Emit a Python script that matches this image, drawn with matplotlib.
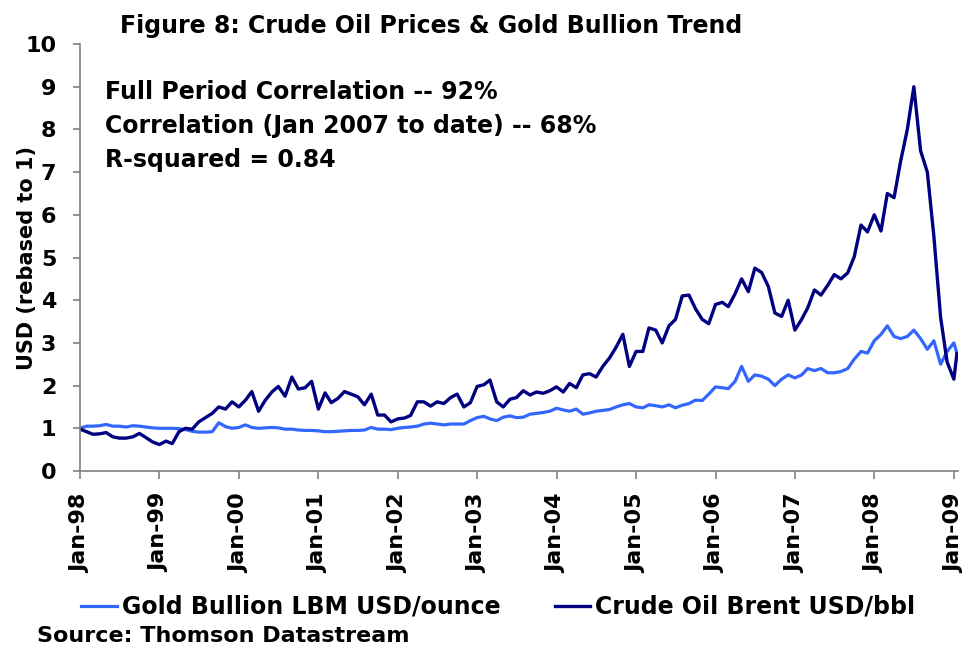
import numpy as np
import pandas as pd
import matplotlib
matplotlib.use("Agg")
import matplotlib.pyplot as plt
import matplotlib.dates as mdates

# Monthly values, rebased to 1 at Jan-98, last point mid Jan-09
crude = [
    0.98, 0.92, 0.86, 0.87, 0.90, 0.80, 0.77, 0.77, 0.80, 0.88, 0.78, 0.68,  # 1998
    0.62, 0.70, 0.64, 0.92, 1.00, 0.98, 1.15, 1.25, 1.35, 1.50, 1.45, 1.62,  # 1999
    1.50, 1.66, 1.86, 1.40, 1.65, 1.85, 1.98, 1.75, 2.20, 1.92, 1.95, 2.10,  # 2000
    1.45, 1.83, 1.60, 1.70, 1.86, 1.80, 1.74, 1.55, 1.80, 1.31, 1.31, 1.15,  # 2001
    1.22, 1.24, 1.30, 1.62, 1.62, 1.52, 1.62, 1.58, 1.72, 1.80, 1.50, 1.60,  # 2002
    1.98, 2.02, 2.13, 1.62, 1.50, 1.68, 1.72, 1.88, 1.78, 1.85, 1.82, 1.88,  # 2003
    1.97, 1.85, 2.05, 1.95, 2.25, 2.28, 2.20, 2.45, 2.65, 2.90, 3.20, 2.45,  # 2004
    2.80, 2.80, 3.35, 3.30, 3.00, 3.40, 3.55, 4.10, 4.12, 3.80, 3.55, 3.45,  # 2005
    3.90, 3.95, 3.85, 4.15, 4.50, 4.20, 4.75, 4.65, 4.32, 3.70, 3.62, 4.00,  # 2006
    3.30, 3.55, 3.82, 4.24, 4.12, 4.35, 4.60, 4.50, 4.64, 5.02, 5.76, 5.60,  # 2007
    6.00, 5.62, 6.50, 6.40, 7.25, 8.00, 9.00, 7.50, 7.00, 5.50, 3.60, 2.55,  # 2008
    2.15, 2.75,                                                              # 2009
]
gold = [
    1.00, 1.05, 1.05, 1.06, 1.09, 1.05, 1.05, 1.03, 1.06, 1.05, 1.03, 1.01,  # 1998
    1.00, 1.00, 1.00, 0.99, 0.97, 0.93, 0.91, 0.91, 0.92, 1.13, 1.04, 1.00,  # 1999
    1.02, 1.08, 1.02, 1.00, 1.01, 1.02, 1.01, 0.98, 0.98, 0.96, 0.95, 0.95,  # 2000
    0.94, 0.92, 0.92, 0.93, 0.94, 0.95, 0.95, 0.96, 1.02, 0.98, 0.98, 0.97,  # 2001
    1.00, 1.02, 1.03, 1.05, 1.10, 1.12, 1.10, 1.08, 1.10, 1.10, 1.10, 1.18,  # 2002
    1.25, 1.28, 1.22, 1.18, 1.26, 1.29, 1.25, 1.26, 1.33, 1.35, 1.37, 1.40,  # 2003
    1.47, 1.43, 1.40, 1.45, 1.33, 1.36, 1.40, 1.42, 1.44, 1.50, 1.55, 1.58,  # 2004
    1.50, 1.48, 1.55, 1.53, 1.50, 1.55, 1.48, 1.54, 1.58, 1.66, 1.65, 1.80,  # 2005
    1.97, 1.95, 1.93, 2.10, 2.45, 2.10, 2.25, 2.22, 2.15, 2.00, 2.15, 2.25,  # 2006
    2.18, 2.25, 2.40, 2.35, 2.40, 2.30, 2.30, 2.33, 2.40, 2.62, 2.80, 2.76,  # 2007
    3.05, 3.20, 3.40, 3.15, 3.10, 3.15, 3.30, 3.10, 2.85, 3.05, 2.50, 2.80,  # 2008
    3.00, 2.76,                                                              # 2009
]
dates = list(pd.date_range("1998-01-01", "2009-01-01", freq="MS")) + [pd.Timestamp("2009-01-15")]

title = "Figure 8: Crude Oil Prices & Gold Bullion Trend"
notes = ["Full Period Correlation -- 92%",
         "Correlation (Jan 2007 to date) -- 68%",
         "R-squared = 0.84"]

plt.rcParams["font.family"] = "DejaVu Sans"
plt.rcParams["font.weight"] = "bold"

fig = plt.figure(figsize=(9.65, 6.5), dpi=100)
ax = fig.add_axes([80 / 965, 1 - 471 / 650, (958 - 80) / 965, (471 - 44) / 650])

gold_line, = ax.plot(dates, gold, color="#3366FF", lw=2.3, label="Gold Bullion LBM USD/ounce")
crude_line, = ax.plot(dates, crude, color="#000080", lw=2.4, label="Crude Oil Brent USD/bbl")

ax.set_xlim(pd.Timestamp("1998-01-01"), pd.Timestamp("2009-01-20"))
ax.set_ylim(0, 10)
ax.set_yticks(range(0, 11))
ax.xaxis.set_major_locator(mdates.YearLocator())
ax.xaxis.set_major_formatter(mdates.DateFormatter("%b-%y"))

for s in ["top", "right"]:
    ax.spines[s].set_visible(False)
for s in ["left", "bottom"]:
    ax.spines[s].set_color("#808080")
    ax.spines[s].set_linewidth(1.2)
ax.tick_params(axis="both", colors="#808080", labelcolor="black", direction="out",
               length=5, width=1.2, labelsize=16)
ax.tick_params(axis="x", rotation=90, pad=10, length=6)
ax.tick_params(axis="y", pad=12)
for lbl in ax.get_xticklabels() + ax.get_yticklabels():
    lbl.set_fontweight("bold")

ax.set_ylabel("USD (rebased to 1)", fontsize=15, fontweight="bold")
ax.yaxis.set_label_coords(-0.049, 0.5)

for i, note in enumerate(notes):
    fig.text(105 / 965, 1 - (92 + i * 34) / 650, note, fontsize=17, fontweight="bold",
             va="center", ha="left")

fig.text(120 / 965, 1 - 26 / 650, title, fontsize=17, fontweight="bold",
         va="center", ha="left")

fig.legend(handles=[gold_line, crude_line], loc="center left",
           bbox_to_anchor=(72 / 965, 1 - 607 / 650), ncol=2, frameon=False,
           prop={"size": 17, "weight": "bold"}, handlelength=1.5,
           handletextpad=0.2, columnspacing=2.3, borderaxespad=0)

fig.text(37 / 965, 1 - 636 / 650, "Source: Thomson Datastream", fontsize=16,
         fontweight="bold", va="center", ha="left")

fig.savefig("out.png", dpi=100)
